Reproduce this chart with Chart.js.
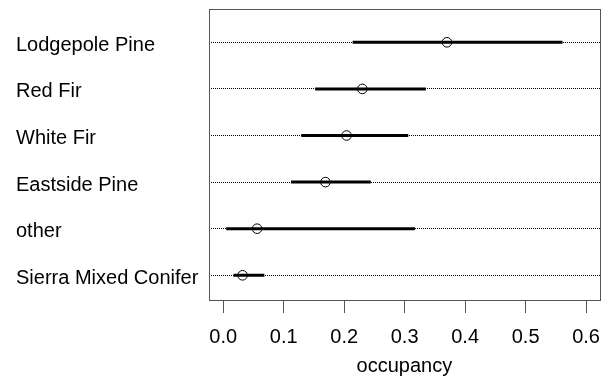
<!DOCTYPE html>
<html>
<head>
<meta charset="utf-8">
<script src="https://cdn.jsdelivr.net/npm/chart.js@4/dist/chart.umd.min.js"></script>
<style>
  html, body { margin: 0; padding: 0; background: #fff; }
  #chart { display: block; }
</style>
</head>
<body>
<canvas id="chart" width="608" height="376"></canvas>
<script>
// forest types, top row first
const categories = ['Lodgepole Pine', 'Red Fir', 'White Fir', 'Eastside Pine', 'other', 'Sierra Mixed Conifer'];
const estimate = [0.370, 0.230, 0.204, 0.169, 0.056, 0.032];
const lower = [0.214, 0.152, 0.129, 0.112, 0.005, 0.017];
const upper = [0.561, 0.335, 0.306, 0.244, 0.317, 0.068];
const xTicks = [0, 0.1, 0.2, 0.3, 0.4, 0.5, 0.6];

const FONT = "'Liberation Sans', Arial, sans-serif";
const n = categories.length;
const rowY = (i) => n - i;

const ciSets = categories.map((c, i) => ({
  type: 'line',
  data: [{ x: lower[i], y: rowY(i) }, { x: upper[i], y: rowY(i) }],
  borderColor: '#000',
  borderWidth: 3,
  pointRadius: 0,
  borderCapStyle: 'butt',
}));

const pointSet = {
  type: 'scatter',
  data: estimate.map((v, i) => ({ x: v, y: rowY(i) })),
  pointStyle: 'circle',
  pointRadius: 4.8,
  pointBackgroundColor: '#fff',
  pointBorderColor: '#000',
  pointBorderWidth: 1,
};

// box round the plot region, like R's box()
const boxPlugin = {
  id: 'box',
  afterDraw(chart) {
    const { ctx, chartArea: a } = chart;
    ctx.save();
    ctx.strokeStyle = '#555';
    ctx.lineWidth = 1;
    ctx.strokeRect(Math.round(a.left) + 0.5, Math.round(a.top) + 0.5,
      Math.round(a.right - a.left), Math.round(a.bottom - a.top));
    ctx.restore();
  }
};

new Chart(document.getElementById('chart'), {
  type: 'scatter',
  data: { datasets: [...ciSets, pointSet] },
  plugins: [boxPlugin],
  options: {
    responsive: false,
    animation: false,
    layout: { padding: { left: 16, right: 8, top: 9, bottom: 0 } },
    plugins: {
      legend: { display: false },
      tooltip: { enabled: false },
    },
    scales: {
      x: {
        type: 'linear',
        min: -0.024,
        max: 0.623,
        afterBuildTicks: (s) => { s.ticks = xTicks.map(v => ({ value: v })); },
        afterFit: (s) => { s.height = 76; s.paddingLeft = 0; s.paddingRight = 0; },
        border: { display: false },
        grid: {
          drawOnChartArea: false,
          drawTicks: true,
          tickLength: 13,
          color: '#555',
        },
        ticks: {
          padding: 12,
          color: '#000',
          font: { family: FONT, size: 20 },
          callback: (v) => Number(v).toFixed(1),
        },
        title: {
          display: true,
          text: 'occupancy',
          color: '#000',
          font: { family: FONT, size: 20, lineHeight: 1 },
          padding: { top: 0, bottom: 0 },
        },
      },
      y: {
        type: 'linear',
        min: 0.47,
        max: 6.715,
        afterBuildTicks: (s) => { s.ticks = categories.map((c, i) => ({ value: rowY(i) })); },
        afterFit: (s) => { s.width = 192.7; s.paddingTop = 0; s.paddingBottom = 0; },
        border: { display: false, dash: [1, 1] },
        grid: {
          drawTicks: false,
          color: '#000',
          lineWidth: 1,
        },
        ticks: {
          crossAlign: 'far',
          labelOffset: 3,
          color: '#000',
          font: { family: FONT, size: 20 },
          callback: (v) => categories[n - Math.round(v)],
        },
      },
    },
  },
});
</script>
</body>
</html>
